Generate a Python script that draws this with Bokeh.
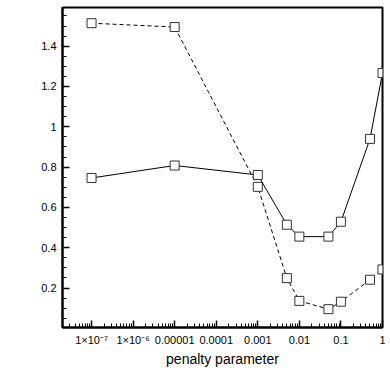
from bokeh.plotting import figure
from bokeh.models import Range1d, FixedTicker, CustomJSTickFormatter
from bokeh.embed import file_html
from bokeh.resources import INLINE

# ---- data ----
penalty = [1e-7, 1e-5, 1e-3, 0.005, 0.01, 0.05, 0.1, 0.5, 1.0]
series_solid = [0.746, 0.808, 0.761, 0.514, 0.455, 0.455, 0.529, 0.94, 1.267]
series_dashed = [1.514, 1.495, 0.702, 0.249, 0.136, 0.095, 0.132, 0.241, 0.292]

x_tick_exps = [-7, -6, -5, -4, -3, -2, -1, 0]
x_tick_labels = ["1×10⁻⁷", "1×10⁻⁶", "0.00001", "0.0001", "0.001", "0.01", "0.1", "1"]
y_ticks = [0.2, 0.4, 0.6, 0.8, 1.0, 1.2, 1.4]
x_label = "penalty parameter"

FONT = "Liberation Sans"

p = figure(
    x_axis_type="log",
    x_range=Range1d(2.0e-8, 1.0),
    y_range=Range1d(0.004, 1.592),
    frame_width=320, frame_height=320,
    min_border_left=62, min_border_top=7, min_border_right=3, min_border_bottom=40,
    output_backend="svg", toolbar_location=None,
    background_fill_color="white", border_fill_color="white",
)
p.xgrid.visible = False
p.ygrid.visible = False
p.outline_line_color = "black"
p.outline_line_width = 2
p.outline_line_alpha = 1.0

# x axis ticks
x_major = [float(f"1e{e}") for e in x_tick_exps]
x_minor = [float(f"{k}e{e}") for e in range(-8, 0) for k in range(2, 10)]
p.xaxis.ticker = FixedTicker(ticks=x_major, minor_ticks=x_minor)
p.xaxis.formatter = CustomJSTickFormatter(
    args=dict(labels=x_tick_labels, exps=x_tick_exps),
    code="""
const e = Math.round(Math.log10(tick));
const i = exps.indexOf(e);
return i >= 0 ? labels[i] : "";
""")

y_minor = [round(0.05 * i, 2) for i in range(1, 32)]
p.yaxis.ticker = FixedTicker(ticks=y_ticks, minor_ticks=y_minor)
p.yaxis.formatter = CustomJSTickFormatter(code="return String(Number(tick.toFixed(2)));")

for ax in (p.xaxis[0], p.yaxis[0]):
    ax.axis_line_width = 2
    ax.axis_line_color = "black"
    ax.major_tick_in = 7
    ax.major_tick_out = 0
    ax.minor_tick_in = 4
    ax.minor_tick_out = 0
    ax.major_tick_line_color = "black"
    ax.minor_tick_line_color = "black"
    ax.major_tick_line_width = 1.5
    ax.minor_tick_line_width = 1
    ax.major_label_text_font = FONT
    ax.major_label_text_font_size = "11px"
    ax.major_label_text_color = "black"

p.yaxis.major_label_standoff = 6
p.xaxis.major_label_standoff = 6
p.xaxis.axis_label = x_label
p.xaxis.axis_label_text_font = FONT
p.xaxis.axis_label_text_font_size = "14px"
p.xaxis.axis_label_text_font_style = "normal"
p.xaxis.axis_label_text_color = "black"
p.xaxis.axis_label_standoff = 2

# dashed series first, solid series on top
p.line(penalty, series_dashed, line_color="black", line_width=1, line_dash="4 3")
p.scatter(penalty, series_dashed, marker="square", size=9,
          fill_color="white", line_color="#333333", line_width=1)
p.line(penalty, series_solid, line_color="black", line_width=1)
p.scatter(penalty, series_solid, marker="square", size=9,
          fill_color="white", line_color="#333333", line_width=1)

open("out.html", "w").write(file_html(p, INLINE))
